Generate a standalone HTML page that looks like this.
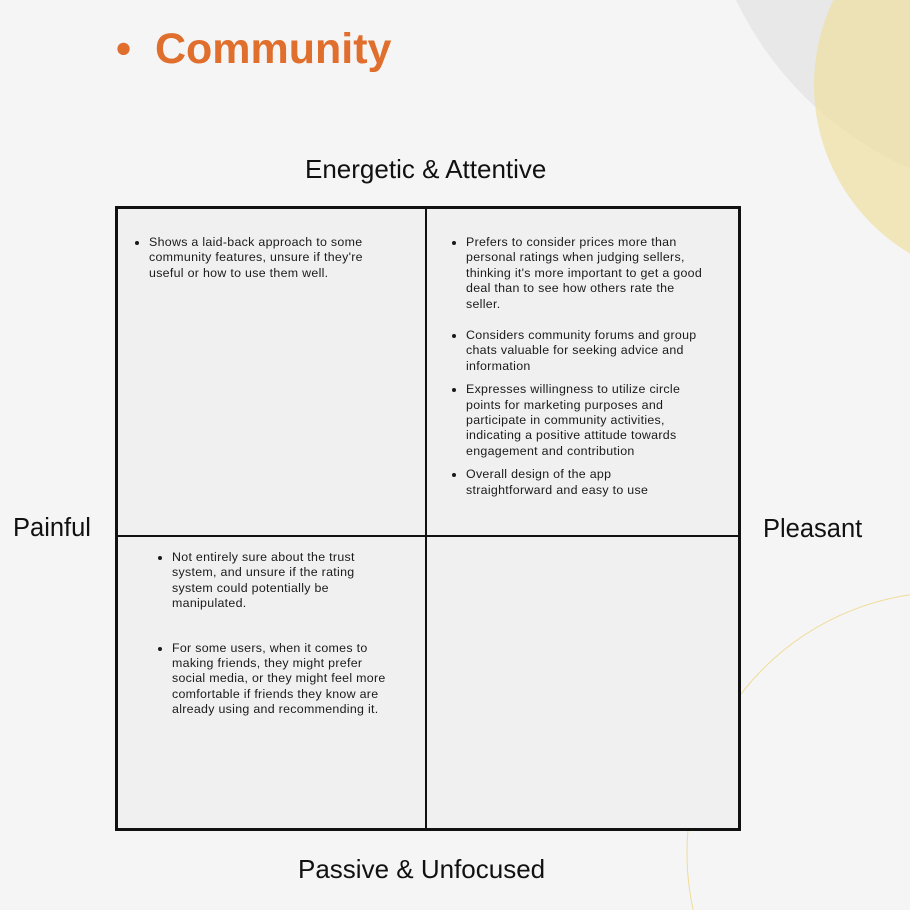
<!DOCTYPE html>
<html><head><style>
html,body{margin:0;padding:0}
body{width:910px;height:910px;background:#f5f5f5;position:relative;overflow:hidden;font-family:"Liberation Sans",sans-serif;color:#111}
.t{position:absolute;white-space:nowrap}
ul{position:absolute;margin:0;padding:0 0 0 18px;font-size:12.4px;line-height:15.4px;color:#1a1a1a;white-space:nowrap;letter-spacing:0.3px}
li{margin:0}
svg{display:block}
</style></head><body>
<svg width="910" height="910" style="position:absolute;left:0;top:0">
<circle cx="1050" cy="-150" r="348" fill="#e8e8e8"/>
<circle cx="1010" cy="85" r="196" fill="#efdf9f" fill-opacity="0.7"/>
<circle cx="948" cy="853" r="261" fill="none" stroke="#f0dc98" stroke-width="1"/>
<rect x="116.5" y="207.5" width="623" height="622" fill="#f0f0f0" stroke="#111" stroke-width="3"/>
<line x1="426" y1="207" x2="426" y2="830" stroke="#111" stroke-width="2"/>
<line x1="116" y1="536" x2="740" y2="536" stroke="#111" stroke-width="2"/>
</svg>
<div class="t" style="left:116px;top:25px;font-size:43px;font-weight:bold;color:#e06e2c">•&nbsp;&nbsp;Community</div>
<div class="t" style="left:305px;top:154px;font-size:26px">Energetic &amp; Attentive</div>
<div class="t" style="left:298px;top:854px;font-size:26px">Passive &amp; Unfocused</div>
<div class="t" style="left:13px;top:514px;font-size:25.5px">Painful</div>
<div class="t" style="left:763px;top:515px;font-size:25.5px">Pleasant</div>
<ul style="left:131px;top:235px">
<li>Shows a laid-back approach to some<br>community features, unsure if they're<br>useful or how to use them well.</li></ul>
<ul style="left:448px;top:235px">
<li style="margin-bottom:16px">Prefers to consider prices more than<br>personal ratings when judging sellers,<br>thinking it's more important to get a good<br>deal than to see how others rate the<br>seller.</li>
<li style="margin-bottom:8px">Considers community forums and group<br>chats valuable for seeking advice and<br>information</li>
<li style="margin-bottom:8px">Expresses willingness to utilize circle<br>points for marketing purposes and<br>participate in community activities,<br>indicating a positive attitude towards<br>engagement and contribution</li>
<li>Overall design of the app<br>straightforward and easy to use</li></ul>
<ul style="left:154px;top:550px">
<li style="margin-bottom:29px">Not entirely sure about the trust<br>system, and unsure if the rating<br>system could potentially be<br>manipulated.</li>
<li>For some users, when it comes to<br>making friends, they might prefer<br>social media, or they might feel more<br>comfortable if friends they know are<br>already using and recommending it.</li></ul>
</body></html>
